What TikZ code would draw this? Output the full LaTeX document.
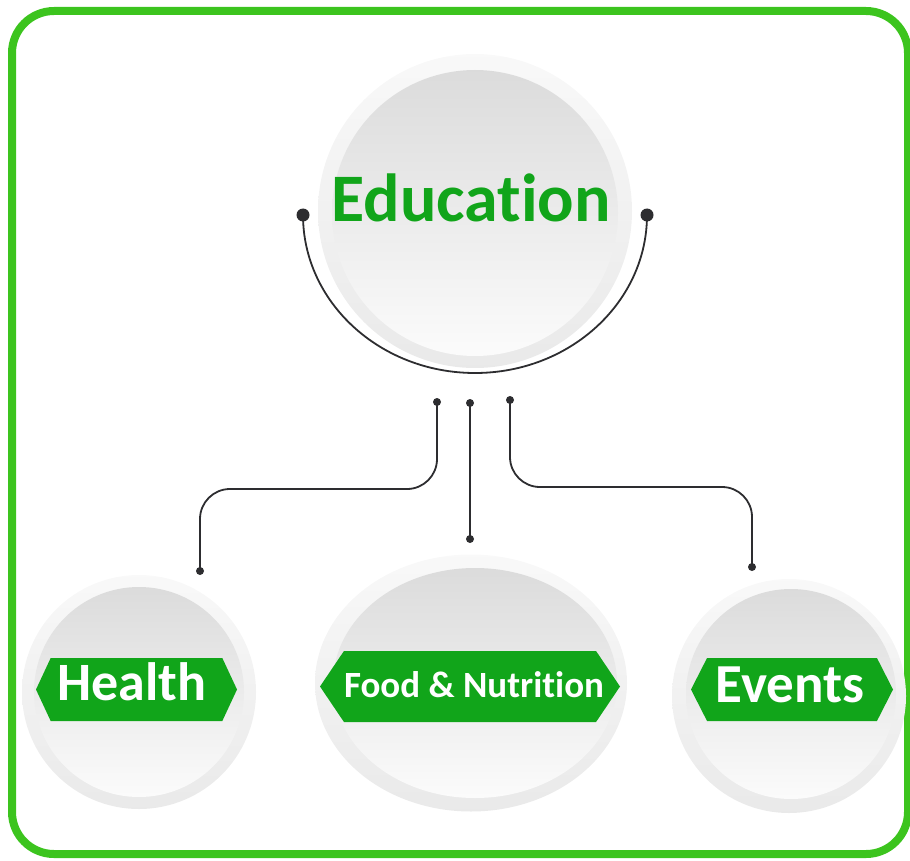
\documentclass[tikz,border=0pt]{standalone}
\usepackage{fontspec}
\setmainfont[Ligatures=NoCommon]{Carlito}
\usetikzlibrary{shapes.geometric,shapes.symbols}
\definecolor{framegreen}{RGB}{60,196,30}
\definecolor{tagreen}{RGB}{17,165,26}
\definecolor{wirecol}{RGB}{45,45,48}

\begin{document}
\begin{tikzpicture}[x=1pt,y=-1pt,
    disc/.style={circle, inner sep=0pt, top color=gray!5, bottom color=gray!17},
    innerdisc/.style={circle, inner sep=0pt, top color=gray!28, bottom color=gray!3},
    oval/.style={ellipse, inner sep=0pt, top color=gray!5, bottom color=gray!17},
    inneroval/.style={ellipse, inner sep=0pt, top color=gray!28, bottom color=gray!3},
    tag/.style={signal, signal to=west and east, fill=tagreen, inner sep=0pt},
    tagtext/.style={text=white, font=\bfseries\fontsize{#1}{#1}\selectfont, anchor=base, inner sep=0pt},
    wire/.style={draw=wirecol, line width=1.8pt, rounded corners=30pt},
    dot/.style={circle, fill=wirecol, inner sep=0pt, minimum size=#1}]

    \useasboundingbox (0,0) rectangle (910,861);
    \draw[framegreen, line width=8pt, rounded corners=42pt] (12,11) rectangle (908,854);

    % discs
    \node[disc, minimum size=314pt] (edu) at (475,211) {};
    \node[innerdisc, minimum size=286pt] (eduin) at (475,213) {};
    \node[disc, minimum size=234pt] (health) at (139,692) {};
    \node[innerdisc, minimum size=210pt] (healthin) at (139,692) {};
    \node[oval, minimum width=312pt, minimum height=257pt] (food) at (471,683) {};
    \node[inneroval, minimum width=284pt, minimum height=230pt] (foodin) at (475,683) {};
    \node[disc, minimum size=234pt] (events) at (789,696) {};
    \node[innerdisc, minimum size=210pt] (eventsin) at (791,694) {};

    % arc under the top disc
    \node[dot=13pt] (arcl) at (303,215) {};
    \node[dot=13pt] (arcr) at (647,215) {};
    \draw[wire] (arcl.center) arc[start angle=180, end angle=0, x radius=172, y radius=158];

    % connectors
    \node[dot=8pt] (hs) at (437,402) {};
    \node[dot=8pt] (he) at (200,571) {};
    \node[dot=8pt] (ms) at (470,403) {};
    \node[dot=8pt] (me) at (470,539) {};
    \node[dot=8pt] (es) at (510,400) {};
    \node[dot=8pt] (ee) at (752,567) {};
    \draw[wire] (hs.center) -- ++(0,87) -| (he.center);
    \draw[wire] (ms.center) -- (me.center);
    \draw[wire] (es.center) -- ++(0,87) -| (ee.center);

    % labels
    \node[text=tagreen, font=\bfseries\fontsize{68}{68}\selectfont, anchor=base, inner sep=0pt] (edutext) at (471,222) {Educat\kern0pt ion};
    \node[tag, signal pointer angle=130, minimum width=201pt, minimum height=63pt] (healthtag) at (136.5,689.5) {};
    \node[tagtext=54] (healthtext) at (132,700) {Health};
    \node[tag, signal pointer angle=112, minimum width=300pt, minimum height=71pt] (foodtag) at (470,686.5) {};
    \node[tagtext=37] (foodtext) at (474,697) {Food \& Nutrit\kern0pt ion};
    \node[tag, signal pointer angle=126, minimum width=202pt, minimum height=63pt] (eventstag) at (792,689.5) {};
    \node[tagtext=55] (eventstext) at (790,702) {Events};
\end{tikzpicture}
\end{document}
